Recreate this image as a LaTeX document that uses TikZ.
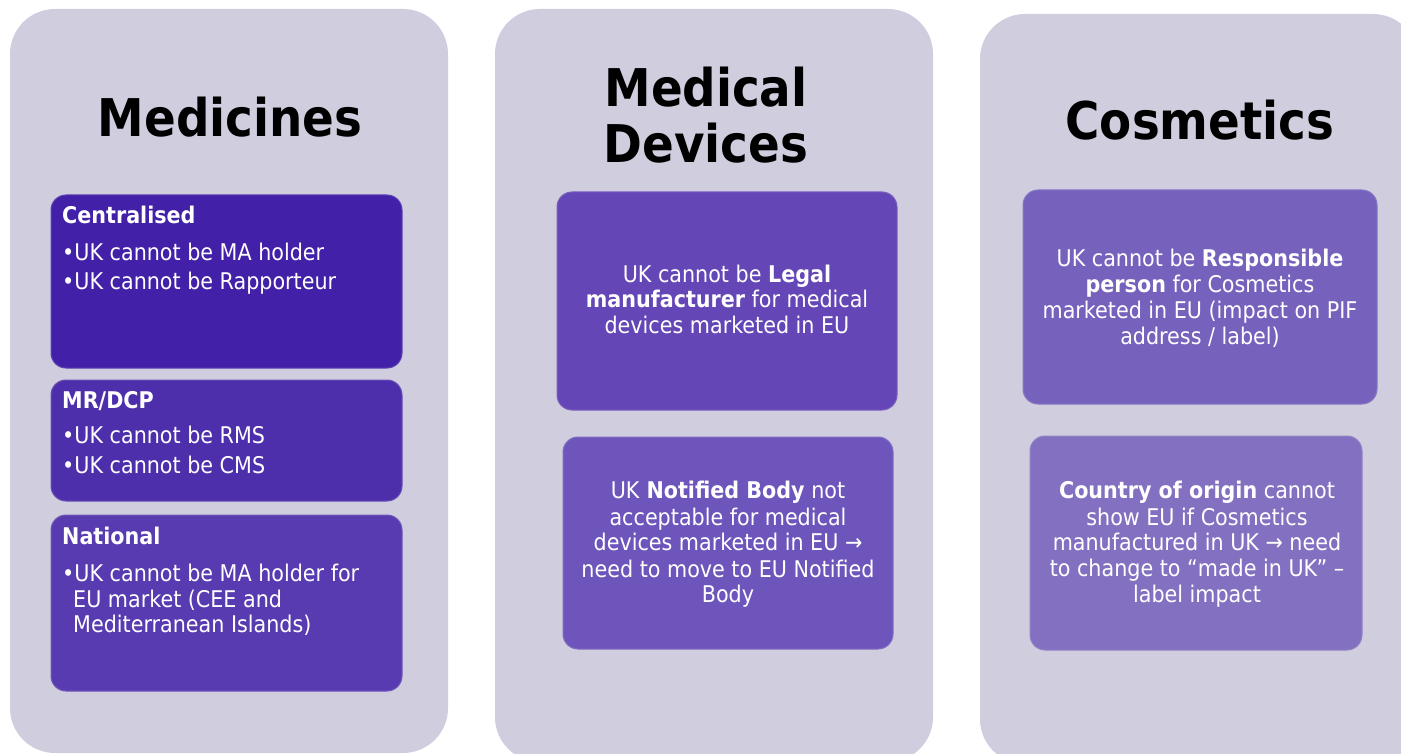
\documentclass[tikz,border=0pt]{standalone}
\usepackage{fontspec}
\setmainfont{DejaVu Sans Condensed}
\definecolor{panelgrey}{HTML}{D0CEDE}
\definecolor{cA}{HTML}{4220A8}
\definecolor{cB}{HTML}{4D2FAC}
\definecolor{cC}{HTML}{583BB0}
\definecolor{cD}{HTML}{6446B6}
\definecolor{cE}{HTML}{6D55BB}
\definecolor{cF}{HTML}{7661BD}
\definecolor{cG}{HTML}{8370C1}
\tikzset{
  panel/.style={fill=panelgrey, draw=none, rounded corners=45pt},
  ibox/.style={draw=#1!80!panelgrey, line width=1pt, fill=#1, rounded corners=15pt, inner sep=0pt},
  title/.style={inner sep=0pt, anchor=base, font=\fontsize{52}{56}\selectfont\bfseries, text=black},
  ltxt/.style={inner sep=0pt, anchor=base west, text=white, font=\fontsize{23}{27}\selectfont},
  ctxt/.style={inner sep=0pt, anchor=base, text=white, font=\fontsize{23}{27}\selectfont},
}
\begin{document}
\begin{tikzpicture}[x=1pt,y=-1pt]
\useasboundingbox (0,0) rectangle (1401,754);
\clip (0,0) rectangle (1401,754);
\fill[white] (0,0) rectangle (1401,754);
% panels
\path[panel] (10,9) rectangle (448,753);
\path[panel] (495,9) rectangle (933,762);
\path[panel] (980,14) rectangle (1418,764);
% titles
\node[title] (t1) at (230,137) {Medicines};
\node[title] (t2a) at (706,107) {Medical};
\node[title] (t2b) at (706,163) {Devices};
\node[title] (t3) at (1200,140) {Cosmetics};
% Medicines boxes
\draw[ibox=cA] (51,195) rectangle (402,368);
\draw[ibox=cB] (51,380) rectangle (402,501);
\draw[ibox=cC] (51,515) rectangle (402,691);
\node[ltxt] (m1) at (62,224) {\bfseries Centralised};
\node[ltxt] (m2) at (62,261) {•UK cannot be MA holder};
\node[ltxt] (m3) at (62,290) {•UK cannot be Rapporteur};
\node[ltxt] (m4) at (62,408) {\bfseries MR/DCP};
\node[ltxt] (m5) at (62,443) {•UK cannot be RMS};
\node[ltxt] (m6) at (62,473) {•UK cannot be CMS};
\node[ltxt] (m7) at (62,544) {\bfseries National};
\node[ltxt] (m8) at (62,581) {•UK cannot be MA holder for};
\node[ltxt] (m9) at (73,607) {EU market (CEE and};
\node[ltxt] (m10) at (73,632) {Mediterranean Islands)};
% Medical devices boxes
\draw[ibox=cD] (557,192) rectangle (897,410);
\draw[ibox=cE] (563,437) rectangle (893,649);
\node[ctxt] (d1) at (727,283) {UK cannot be \textbf{Legal}};
\node[ctxt] (d2) at (727,308) {\textbf{manufacturer} for medical};
\node[ctxt] (d3) at (727,334) {devices marketed in EU};
\node[ctxt] (d4) at (728,498) {UK \textbf{Notified Body} not};
\node[ctxt] (d5) at (728,525) {acceptable for medical};
\node[ctxt] (d6) at (728,550) {devices marketed in EU →};
\node[ctxt] (d7) at (728,577) {need to move to EU Notified};
\node[ctxt] (d8) at (728,602) {Body};
% Cosmetics boxes
\draw[ibox=cF] (1023,190) rectangle (1377,404);
\draw[ibox=cG] (1030,436) rectangle (1362,650);
\node[ctxt] (c1) at (1200,267) {UK cannot be \textbf{Responsible}};
\node[ctxt] (c2) at (1200,293) {\textbf{person} for Cosmetics};
\node[ctxt] (c3) at (1200,318) {marketed in EU (impact on PIF};
\node[ctxt] (c4) at (1200,344) {address / label)};
\node[ctxt] (c5) at (1197,498) {\textbf{Country of origin} cannot};
\node[ctxt] (c6) at (1197,525) {show EU if Cosmetics};
\node[ctxt] (c7) at (1197,550) {manufactured in UK → need};
\node[ctxt] (c8) at (1197,576) {to change to “made in UK” –};
\node[ctxt] (c9) at (1197,602) {label impact};
\end{tikzpicture}
\end{document}
